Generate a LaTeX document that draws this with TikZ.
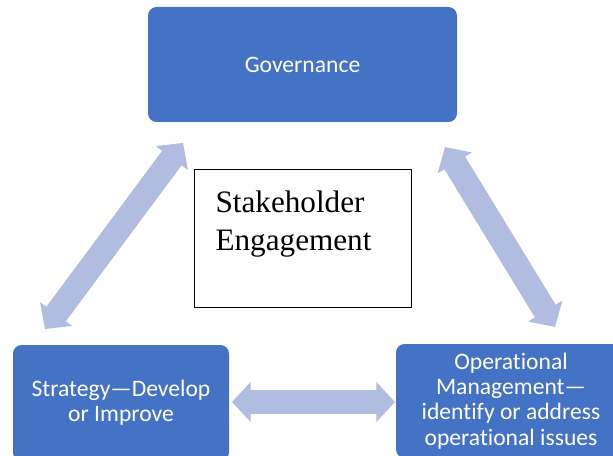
\documentclass[tikz,border=0pt]{standalone}
\usepackage{fontspec}
\setmainfont{Liberation Serif}
\newfontfamily\boxfont[Ligatures=NoCommon]{Carlito}
\usetikzlibrary{arrows.meta}

\definecolor{boxblue}{RGB}{68,114,196}
\definecolor{linkblue}{RGB}{176,189,224}

\begin{document}
\begin{tikzpicture}[x=0.75pt,y=-0.75pt,>={Triangle[length=14pt,width=30pt,line width'=0pt]},
  main node/.style={rectangle,rounded corners=6.5pt,fill=boxblue,text=white,inner sep=0pt,
    align=center,font=\boxfont\fontsize{17.7}{18.9}\selectfont},
  link/.style={<->,draw=linkblue,line width=18pt,
    preaction={draw=linkblue,line width=18pt,-,shorten <=12pt,shorten >=12pt}}]

  \path[use as bounding box,clip] (0,0) rectangle (613,456);

  \node[main node,minimum width=231.75pt,minimum height=86.25pt] (gov) at (302.5,64.5) {Governance};
  \node[main node,minimum width=162pt,minimum height=87pt] (strat) at (121,403) {Strategy—Develop\\or Improve};
  \node[main node,minimum width=172.5pt,minimum height=85.5pt] (ops) at (511,401)
    {Operational\\Management—\\identify or address\\operational issues};
  \node[draw,line width=0.8pt,anchor=north west,inner xsep=15.75pt,inner ysep=0pt,
    text width=131.25pt,text height=32.25pt,text depth=71.25pt,align=left,
    font=\fontsize{23.4}{28.5}\selectfont] (stake) at (194,169) {Stakeholder\\Engagement};

  % arrow ends
  \coordinate (strat-g) at (45,329);
  \coordinate (gov-s) at (183,143);
  \coordinate (gov-o) at (445,147);
  \coordinate (ops-g) at (555,327);
  \coordinate (strat-o) at (232,402);
  \coordinate (ops-s) at (395,402);

  \path (strat-g) edge[link] (gov-s)
        (gov-o) edge[link] (ops-g)
        (strat-o) edge[link] (ops-s);
\end{tikzpicture}
\end{document}
